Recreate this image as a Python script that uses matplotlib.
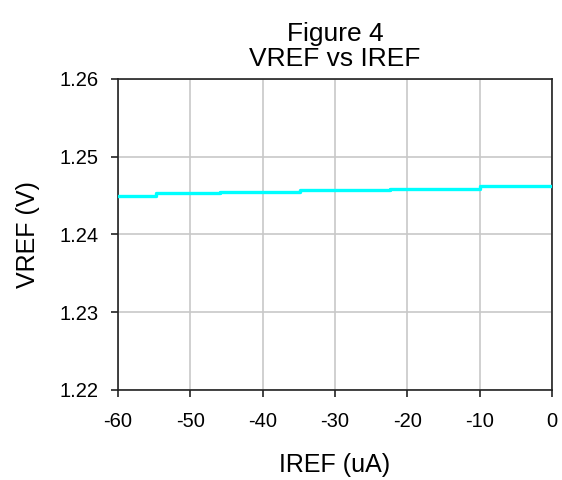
import matplotlib
matplotlib.use("Agg")
import matplotlib.pyplot as plt

plt.rcParams['font.family'] = ['Liberation Sans', 'DejaVu Sans']

iref_ua = [-60, -54.7, -45.9, -34.8, -22.4, -10.0, 0]
vref_v = [1.2450, 1.2453, 1.2455, 1.2457, 1.2459, 1.2463, 1.2463]

x_ticks = [-60, -50, -40, -30, -20, -10, 0]
y_ticks = [1.22, 1.23, 1.24, 1.25, 1.26]

fig = plt.figure(figsize=(5.62, 4.80), dpi=100)
ax = fig.add_axes([118/562, 1-390/480, (552-118)/562, (390-79)/480])

ax.plot(iref_ua, vref_v, color='#00FFFF', lw=2.4, drawstyle='steps-post', zorder=3)

ax.set_xlim(-60, 0)
ax.set_ylim(1.22, 1.26)
ax.set_xticks(x_ticks)
ax.set_yticks(y_ticks)
ax.set_xticklabels([str(v) for v in x_ticks])
ax.set_yticklabels([f"{v:.2f}" for v in y_ticks])
ax.grid(True, color='#c8c8c8', lw=1.2)
ax.set_axisbelow(True)
for s in ax.spines.values():
    s.set_color('#222222')
    s.set_linewidth(1.2)
ax.tick_params(direction='out', length=5, width=1.2, labelsize=14.5, color='#222222')
ax.tick_params(axis='x', pad=11)
ax.tick_params(axis='y', pad=9)

ax.set_xlabel('IREF (uA)', fontsize=18, labelpad=16)
ax.set_ylabel('VREF (V)', fontsize=18, labelpad=14)
ax.set_title('Figure 4\nVREF vs IREF', fontsize=19, linespacing=1.1, pad=9)

fig.savefig('out.png', dpi=100)
